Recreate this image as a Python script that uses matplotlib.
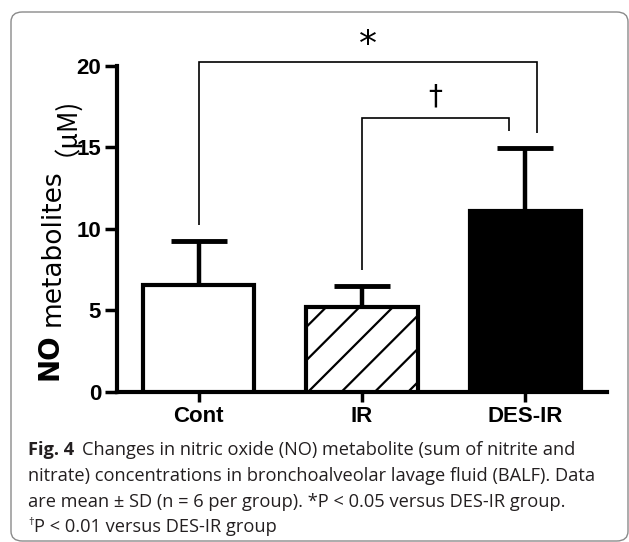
import matplotlib
matplotlib.use("Agg")
import matplotlib.pyplot as plt
from matplotlib.patches import FancyBboxPatch
import numpy as np

# ---- data ----
categories = ["Cont", "IR", "DES-IR"]
means = [6.55, 5.18, 11.1]
sds = [2.71, 1.30, 3.83]
yticks = [0, 5, 10, 15, 20]
# significance brackets: (x_left, x_right, y_top, left_leg_bottom, right_leg_bottom)
star_bracket = [0.0, 2.07, 20.25, 10.2, 15.9]
dagger_bracket = [1.0, 1.90, 16.77, 7.47, 16.0]
caption_lines = [
    "Changes in nitric oxide (NO) metabolite (sum of nitrite and",
    "nitrate) concentrations in bronchoalveolar lavage fluid (BALF). Data",
    "are mean \u00b1 SD (n = 6 per group). *P < 0.05 versus DES-IR group.",
    "P < 0.01 versus DES-IR group",
]

W, H = 629, 542
fig = plt.figure(figsize=(W / 100, H / 100), dpi=100)

def fx(px):
    return px / W

def fy(py):
    return 1 - py / H

# frame
frame = FancyBboxPatch((fx(11), fy(541)), fx(628) - fx(11), fy(12) - fy(541),
                       boxstyle="round,pad=0,rounding_size=0.018",
                       transform=fig.transFigure, fill=False,
                       edgecolor="#8a8a8a", linewidth=1.0)
fig.patches.append(frame)

ax = fig.add_axes([fx(117), fy(391.7), fx(607) - fx(117), fy(65.7) - fy(391.7)])
ax.set_facecolor("none")
x = np.arange(len(categories))

plt.rcParams["hatch.linewidth"] = 1.6
bars = ax.bar(x, means, width=0.68, color=["white", "white", "black"],
              edgecolor="black", linewidth=3, zorder=3)
bars[1].set_hatch("/")

ax.errorbar(x, means, yerr=[np.zeros(len(means)), sds], fmt="none",
            ecolor="black", elinewidth=3.2, capsize=20, capthick=3.5, zorder=2)

ax.set_xlim(-0.5, 2.5)
ax.set_ylim(0, 20)
ax.set_yticks(yticks)
ax.set_xticks(x)
ax.set_xticklabels(categories)
for s in ["top", "right"]:
    ax.spines[s].set_visible(False)
for s in ["left", "bottom"]:
    ax.spines[s].set_linewidth(3)
ax.tick_params(axis="y", length=8.5, width=2.5, pad=3)
ax.tick_params(axis="x", length=7.5, width=2.5, pad=3)
for lab in ax.get_xticklabels() + ax.get_yticklabels():
    lab.set_fontfamily("Liberation Sans")
    lab.set_fontweight("bold")
    lab.set_fontsize(16)

# brackets
for br in (star_bracket, dagger_bracket):
    xl, xr, yt, yl, yr = br
    ax.plot([xl, xl, xr, xr], [yl, yt, yt, yr], color="black", lw=1.2,
            clip_on=False, solid_capstyle="butt", solid_joinstyle="miter")
ax.text((star_bracket[0] + star_bracket[1]) / 2, 21.3, "*", ha="center", va="center",
        fontsize=26, family="DejaVu Sans", clip_on=False)
ax.text((dagger_bracket[0] + dagger_bracket[1]) / 2, 18.1, "\u2020", ha="center", va="center",
        fontsize=20, family="DejaVu Sans", clip_on=False)

# y label pieces (rotated)
fig.text(fx(57), fy(380), "NO", rotation=90, rotation_mode="anchor", ha="left", va="baseline",
         fontsize=20, fontweight="bold", family="DejaVu Sans")
fig.text(fx(60), fy(326), "metabolites", rotation=90, rotation_mode="anchor", ha="left", va="baseline",
         fontsize=19, family="DejaVu Sans")
fig.text(fx(59), fy(156), "\uff08\u03bcM)", rotation=90, rotation_mode="anchor", ha="left", va="baseline",
         fontsize=19, family=["Noto Sans CJK JP", "DejaVu Sans"])

# caption
cap_color = "#231f20"
cap_family = "Open Sans"
fig.canvas.draw()
renderer = fig.canvas.get_renderer()
probe = fig.text(0, 0, caption_lines[1], fontsize=12, family=cap_family)
w = probe.get_window_extent(renderer).width
probe.remove()
cap_size = 12 * (592 - 28) / w

base_y = [455, 481, 507, 532]
t_fig = fig.text(fx(28), fy(base_y[0]), "Fig. 4", fontsize=cap_size, family=cap_family,
                 fontweight="bold", color=cap_color, va="baseline")
ext = t_fig.get_window_extent(renderer)
fig.text(fx(ext.x1 + 8), fy(base_y[0]), caption_lines[0], fontsize=cap_size, family=cap_family,
         color=cap_color, va="baseline")
fig.text(fx(28), fy(base_y[1]), caption_lines[1], fontsize=cap_size, family=cap_family,
         color=cap_color, va="baseline")
fig.text(fx(28), fy(base_y[2]), caption_lines[2], fontsize=cap_size, family=cap_family,
         color=cap_color, va="baseline")
t_dag = fig.text(fx(28), fy(base_y[3] - 7), "\u2020", fontsize=cap_size * 0.62, family=cap_family,
                 color=cap_color, va="baseline")
ext = t_dag.get_window_extent(renderer)
fig.text(fx(ext.x1 + 0.5), fy(base_y[3]), caption_lines[3], fontsize=cap_size, family=cap_family,
         color=cap_color, va="baseline")

fig.savefig("out.png", dpi=100)
